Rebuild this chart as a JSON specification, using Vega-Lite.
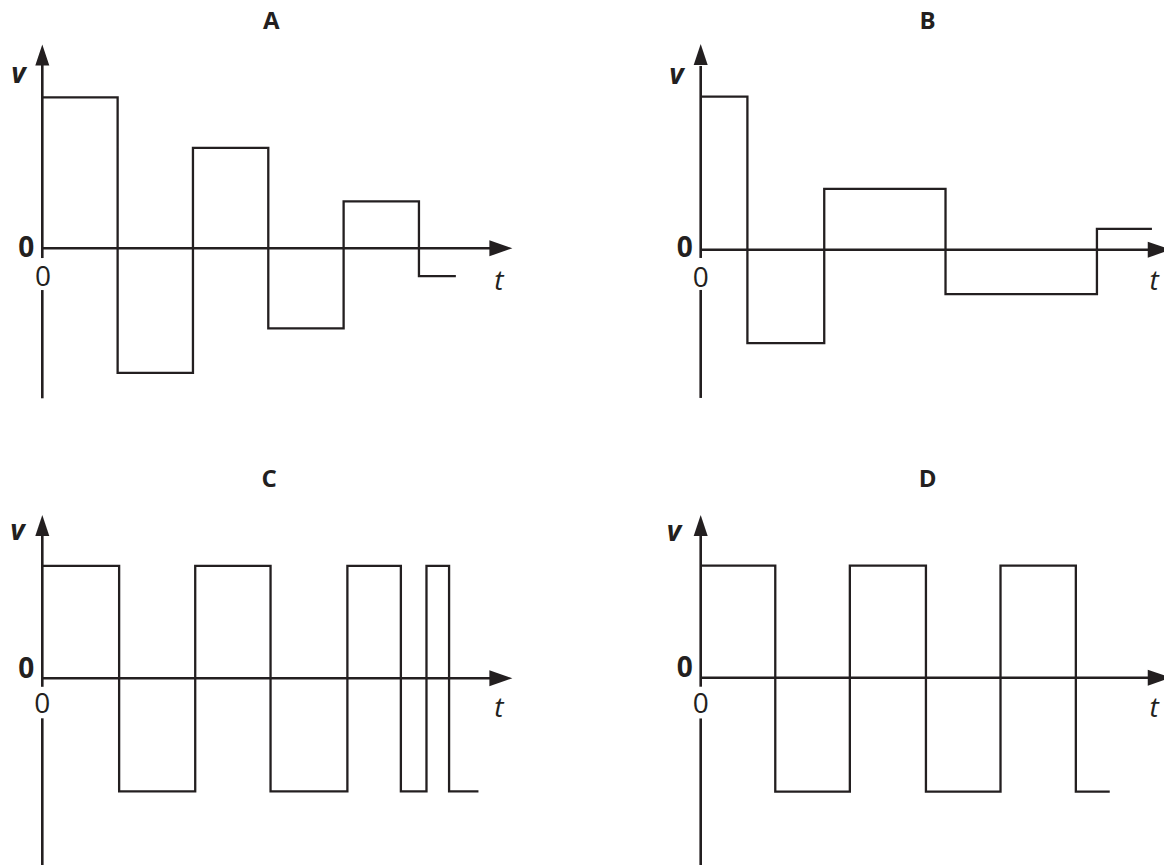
{
  "$schema": "https://vega.github.io/schema/vega-lite/v6.json",
  "padding": 0,
  "spacing": 0,
  "config": {
    "view": {"stroke": null},
    "axis": {"disable": true},
    "font": "Open Sans",
    "concat": {"spacing": 0}
  },
  "datasets": {
    "A": [{"t": 0, "v": 6.04}, {"t": 1, "v": -4.98}, {"t": 2, "v": 4.02}, {"t": 3, "v": -3.2}, {"t": 4, "v": 1.88}, {"t": 5, "v": -1.11}, {"t": 5.49, "v": -1.11}],
    "B": [{"t": 0, "v": 6.12}, {"t": 0.62, "v": -3.74}, {"t": 1.64, "v": 2.43}, {"t": 3.25, "v": -1.78}, {"t": 5.26, "v": 0.83}, {"t": 5.99, "v": 0.83}],
    "C": [{"t": 0, "v": 4.5}, {"t": 1.02, "v": -4.52}, {"t": 2.03, "v": 4.5}, {"t": 3.03, "v": -4.52}, {"t": 4.05, "v": 4.5}, {"t": 4.76, "v": -4.52}, {"t": 5.1, "v": 4.5}, {"t": 5.4, "v": -4.52}, {"t": 5.79, "v": -4.52}],
    "D": [{"t": 0, "v": 4.48}, {"t": 0.99, "v": -4.56}, {"t": 1.98, "v": 4.48}, {"t": 2.99, "v": -4.56}, {"t": 3.98, "v": 4.48}, {"t": 4.98, "v": -4.56}, {"t": 5.43, "v": -4.56}]
  },
  "vconcat": [
    {
      "hconcat": [
        {
          "width": 582, "height": 432,
          "title": {"text": "A", "fontSize": 24, "fontWeight": "bold", "color": "#231f20", "font": "Open Sans", "baseline": "alphabetic", "anchor": "middle", "offset": -52.5, "dx": -19.7},
          "layer": [
            {"data": {"name": "A"}, "mark": {"type": "line", "interpolate": "step-after", "color": "#231f20", "strokeWidth": 2.3, "strokeJoin": "miter", "strokeCap": "butt"},
             "encoding": {"x": {"field": "t", "type": "quantitative", "scale": {"domain": [-0.5615, 7.1645], "nice": false, "zero": false}}, "y": {"field": "v", "type": "quantitative", "scale": {"domain": [-7.348, 9.932], "nice": false, "zero": false}}}},
            {"data": {"values": [{}]}, "mark": {"type": "rule", "color": "#231f20", "strokeWidth": 2.6}, "encoding": {"x": {"datum": 0, "type": "quantitative"}, "x2": {"datum": 6.1}, "y": {"datum": 0, "type": "quantitative"}}},
            {"data": {"values": [{}]}, "mark": {"type": "rule", "color": "#231f20", "strokeWidth": 2.6}, "encoding": {"x": {"datum": 0, "type": "quantitative"}, "y": {"datum": 7.4, "type": "quantitative"}, "y2": {"datum": -0.39}}},
            {"data": {"values": [{}]}, "mark": {"type": "rule", "color": "#231f20", "strokeWidth": 2.6}, "encoding": {"x": {"datum": 0, "type": "quantitative"}, "y": {"datum": -1.67, "type": "quantitative"}, "y2": {"datum": -6.0}}},
            {"data": {"values": [{}]}, "mark": {"type": "point", "filled": true, "opacity": 1, "color": "#231f20", "size": 441, "shape": "M0,0L0.667,2L-0.667,2Z"}, "encoding": {"x": {"datum": 0, "type": "quantitative"}, "y": {"datum": 8.15, "type": "quantitative"}}},
            {"data": {"values": [{}]}, "mark": {"type": "point", "filled": true, "opacity": 1, "color": "#231f20", "size": 256, "shape": "M0,0L-2.875,-1L-2.875,1Z", "clip": true}, "encoding": {"x": {"datum": 6.24, "type": "quantitative"}, "y": {"datum": 0, "type": "quantitative"}}},
            {"data": {"values": [{"label": "v"}]}, "mark": {"type": "text", "fontSize": 28, "fontStyle": "italic", "fontWeight": "bold", "color": "#231f20", "align": "center", "baseline": "alphabetic", "dx": -24}, "encoding": {"x": {"datum": 0, "type": "quantitative"}, "y": {"datum": 6.6, "type": "quantitative"}, "text": {"field": "label"}}},
            {"data": {"values": [{"label": "0"}]}, "mark": {"type": "text", "fontSize": 28, "fontWeight": "bold", "color": "#231f20", "align": "right", "baseline": "alphabetic", "dx": -8, "dy": 9}, "encoding": {"x": {"datum": 0, "type": "quantitative"}, "y": {"datum": 0, "type": "quantitative"}, "text": {"field": "label"}}},
            {"data": {"values": [{"label": "0"}]}, "mark": {"type": "text", "fontSize": 28, "color": "#231f20", "align": "center", "baseline": "alphabetic", "dx": 0.7, "dy": 37.7}, "encoding": {"x": {"datum": 0, "type": "quantitative"}, "y": {"datum": 0, "type": "quantitative"}, "text": {"field": "label"}}},
            {"data": {"values": [{"label": "t"}]}, "mark": {"type": "text", "fontSize": 28, "fontStyle": "italic", "color": "#231f20", "align": "center", "baseline": "alphabetic", "dy": 41.7}, "encoding": {"x": {"datum": 6.06, "type": "quantitative"}, "y": {"datum": 0, "type": "quantitative"}, "text": {"field": "label"}}}
          ]
        },
        {
          "width": 582, "height": 432,
          "title": {"text": "B", "fontSize": 24, "fontWeight": "bold", "color": "#231f20", "font": "Open Sans", "baseline": "alphabetic", "anchor": "middle", "offset": -53.3, "dx": 54.5},
          "layer": [
            {"data": {"name": "B"}, "mark": {"type": "line", "interpolate": "step-after", "color": "#231f20", "strokeWidth": 2.3, "strokeJoin": "miter", "strokeCap": "butt"},
             "encoding": {"x": {"field": "t", "type": "quantitative", "scale": {"domain": [-1.5757, 6.1503], "nice": false, "zero": false}}, "y": {"field": "v", "type": "quantitative", "scale": {"domain": [-7.292, 9.988], "nice": false, "zero": false}}}},
            {"data": {"values": [{}]}, "mark": {"type": "rule", "color": "#231f20", "strokeWidth": 2.6}, "encoding": {"x": {"datum": 0, "type": "quantitative"}, "x2": {"datum": 6.1}, "y": {"datum": 0, "type": "quantitative"}}},
            {"data": {"values": [{}]}, "mark": {"type": "rule", "color": "#231f20", "strokeWidth": 2.6}, "encoding": {"x": {"datum": 0, "type": "quantitative"}, "y": {"datum": 7.35, "type": "quantitative"}, "y2": {"datum": -0.33}}},
            {"data": {"values": [{}]}, "mark": {"type": "rule", "color": "#231f20", "strokeWidth": 2.6}, "encoding": {"x": {"datum": 0, "type": "quantitative"}, "y": {"datum": -1.61, "type": "quantitative"}, "y2": {"datum": -5.93}}},
            {"data": {"values": [{}]}, "mark": {"type": "point", "filled": true, "opacity": 1, "color": "#231f20", "size": 441, "shape": "M0,0L0.667,2L-0.667,2Z"}, "encoding": {"x": {"datum": 0, "type": "quantitative"}, "y": {"datum": 8.23, "type": "quantitative"}}},
            {"data": {"values": [{}]}, "mark": {"type": "point", "filled": true, "opacity": 1, "color": "#231f20", "size": 256, "shape": "M0,0L-2.875,-1L-2.875,1Z", "clip": true}, "encoding": {"x": {"datum": 6.24, "type": "quantitative"}, "y": {"datum": 0, "type": "quantitative"}}},
            {"data": {"values": [{"label": "v"}]}, "mark": {"type": "text", "fontSize": 28, "fontStyle": "italic", "fontWeight": "bold", "color": "#231f20", "align": "center", "baseline": "alphabetic", "dx": -24.2}, "encoding": {"x": {"datum": 0, "type": "quantitative"}, "y": {"datum": 6.63, "type": "quantitative"}, "text": {"field": "label"}}},
            {"data": {"values": [{"label": "0"}]}, "mark": {"type": "text", "fontSize": 28, "fontWeight": "bold", "color": "#231f20", "align": "right", "baseline": "alphabetic", "dx": -8, "dy": 7.3}, "encoding": {"x": {"datum": 0, "type": "quantitative"}, "y": {"datum": 0, "type": "quantitative"}, "text": {"field": "label"}}},
            {"data": {"values": [{"label": "0"}]}, "mark": {"type": "text", "fontSize": 28, "color": "#231f20", "align": "center", "baseline": "alphabetic", "dx": 0, "dy": 37}, "encoding": {"x": {"datum": 0, "type": "quantitative"}, "y": {"datum": 0, "type": "quantitative"}, "text": {"field": "label"}}},
            {"data": {"values": [{"label": "t"}]}, "mark": {"type": "text", "fontSize": 28, "fontStyle": "italic", "color": "#231f20", "align": "center", "baseline": "alphabetic", "dy": 40.3}, "encoding": {"x": {"datum": 6.02, "type": "quantitative"}, "y": {"datum": 0, "type": "quantitative"}, "text": {"field": "label"}}}
          ]
        }
      ]
    },
    {
      "hconcat": [
        {
          "width": 582, "height": 433,
          "title": {"text": "C", "fontSize": 24, "fontWeight": "bold", "color": "#231f20", "font": "Open Sans", "baseline": "alphabetic", "anchor": "middle", "offset": -78.7, "dx": -21.8},
          "layer": [
            {"data": {"name": "C"}, "mark": {"type": "line", "interpolate": "step-after", "color": "#231f20", "strokeWidth": 2.3, "strokeJoin": "miter", "strokeCap": "butt"},
             "encoding": {"x": {"field": "t", "type": "quantitative", "scale": {"domain": [-0.5615, 7.1645], "nice": false, "zero": false}}, "y": {"field": "v", "type": "quantitative", "scale": {"domain": [-7.468, 9.852], "nice": false, "zero": false}}}},
            {"data": {"values": [{}]}, "mark": {"type": "rule", "color": "#231f20", "strokeWidth": 2.6}, "encoding": {"x": {"datum": 0, "type": "quantitative"}, "x2": {"datum": 6.1}, "y": {"datum": 0, "type": "quantitative"}}},
            {"data": {"values": [{}]}, "mark": {"type": "rule", "color": "#231f20", "strokeWidth": 2.6}, "encoding": {"x": {"datum": 0, "type": "quantitative"}, "y": {"datum": 5.73, "type": "quantitative"}, "y2": {"datum": -0.34}}},
            {"data": {"values": [{}]}, "mark": {"type": "rule", "color": "#231f20", "strokeWidth": 2.6}, "encoding": {"x": {"datum": 0, "type": "quantitative"}, "y": {"datum": -1.6, "type": "quantitative"}, "y2": {"datum": -7.468}}},
            {"data": {"values": [{}]}, "mark": {"type": "point", "filled": true, "opacity": 1, "color": "#231f20", "size": 441, "shape": "M0,0L0.667,2L-0.667,2Z"}, "encoding": {"x": {"datum": 0, "type": "quantitative"}, "y": {"datum": 6.53, "type": "quantitative"}}},
            {"data": {"values": [{}]}, "mark": {"type": "point", "filled": true, "opacity": 1, "color": "#231f20", "size": 256, "shape": "M0,0L-2.875,-1L-2.875,1Z", "clip": true}, "encoding": {"x": {"datum": 6.24, "type": "quantitative"}, "y": {"datum": 0, "type": "quantitative"}}},
            {"data": {"values": [{"label": "v"}]}, "mark": {"type": "text", "fontSize": 28, "fontStyle": "italic", "fontWeight": "bold", "color": "#231f20", "align": "center", "baseline": "alphabetic", "dx": -25}, "encoding": {"x": {"datum": 0, "type": "quantitative"}, "y": {"datum": 5.53, "type": "quantitative"}, "text": {"field": "label"}}},
            {"data": {"values": [{"label": "0"}]}, "mark": {"type": "text", "fontSize": 28, "fontWeight": "bold", "color": "#231f20", "align": "right", "baseline": "alphabetic", "dx": -8, "dy": 0}, "encoding": {"x": {"datum": 0, "type": "quantitative"}, "y": {"datum": 0, "type": "quantitative"}, "text": {"field": "label"}}},
            {"data": {"values": [{"label": "0"}]}, "mark": {"type": "text", "fontSize": 28, "color": "#231f20", "align": "center", "baseline": "alphabetic", "dx": 0, "dy": 35}, "encoding": {"x": {"datum": 0, "type": "quantitative"}, "y": {"datum": 0, "type": "quantitative"}, "text": {"field": "label"}}},
            {"data": {"values": [{"label": "t"}]}, "mark": {"type": "text", "fontSize": 28, "fontStyle": "italic", "color": "#231f20", "align": "center", "baseline": "alphabetic", "dy": 38.7}, "encoding": {"x": {"datum": 6.06, "type": "quantitative"}, "y": {"datum": 0, "type": "quantitative"}, "text": {"field": "label"}}}
          ]
        },
        {
          "width": 582, "height": 433,
          "title": {"text": "D", "fontSize": 24, "fontWeight": "bold", "color": "#231f20", "font": "Open Sans", "baseline": "alphabetic", "anchor": "middle", "offset": -79, "dx": 54.5},
          "layer": [
            {"data": {"name": "D"}, "mark": {"type": "line", "interpolate": "step-after", "color": "#231f20", "strokeWidth": 2.3, "strokeJoin": "miter", "strokeCap": "butt"},
             "encoding": {"x": {"field": "t", "type": "quantitative", "scale": {"domain": [-1.5757, 6.1503], "nice": false, "zero": false}}, "y": {"field": "v", "type": "quantitative", "scale": {"domain": [-7.492, 9.828], "nice": false, "zero": false}}}},
            {"data": {"values": [{}]}, "mark": {"type": "rule", "color": "#231f20", "strokeWidth": 2.6}, "encoding": {"x": {"datum": 0, "type": "quantitative"}, "x2": {"datum": 6.1}, "y": {"datum": 0, "type": "quantitative"}}},
            {"data": {"values": [{}]}, "mark": {"type": "rule", "color": "#231f20", "strokeWidth": 2.6}, "encoding": {"x": {"datum": 0, "type": "quantitative"}, "y": {"datum": 5.7, "type": "quantitative"}, "y2": {"datum": -0.36}}},
            {"data": {"values": [{}]}, "mark": {"type": "rule", "color": "#231f20", "strokeWidth": 2.6}, "encoding": {"x": {"datum": 0, "type": "quantitative"}, "y": {"datum": -1.63, "type": "quantitative"}, "y2": {"datum": -7.492}}},
            {"data": {"values": [{}]}, "mark": {"type": "point", "filled": true, "opacity": 1, "color": "#231f20", "size": 441, "shape": "M0,0L0.667,2L-0.667,2Z"}, "encoding": {"x": {"datum": 0, "type": "quantitative"}, "y": {"datum": 6.51, "type": "quantitative"}}},
            {"data": {"values": [{}]}, "mark": {"type": "point", "filled": true, "opacity": 1, "color": "#231f20", "size": 256, "shape": "M0,0L-2.875,-1L-2.875,1Z", "clip": true}, "encoding": {"x": {"datum": 6.24, "type": "quantitative"}, "y": {"datum": 0, "type": "quantitative"}}},
            {"data": {"values": [{"label": "v"}]}, "mark": {"type": "text", "fontSize": 28, "fontStyle": "italic", "fontWeight": "bold", "color": "#231f20", "align": "center", "baseline": "alphabetic", "dx": -26.7}, "encoding": {"x": {"datum": 0, "type": "quantitative"}, "y": {"datum": 5.47, "type": "quantitative"}, "text": {"field": "label"}}},
            {"data": {"values": [{"label": "0"}]}, "mark": {"type": "text", "fontSize": 28, "fontWeight": "bold", "color": "#231f20", "align": "right", "baseline": "alphabetic", "dx": -8, "dy": -1}, "encoding": {"x": {"datum": 0, "type": "quantitative"}, "y": {"datum": 0, "type": "quantitative"}, "text": {"field": "label"}}},
            {"data": {"values": [{"label": "0"}]}, "mark": {"type": "text", "fontSize": 28, "color": "#231f20", "align": "center", "baseline": "alphabetic", "dx": 0, "dy": 35.6}, "encoding": {"x": {"datum": 0, "type": "quantitative"}, "y": {"datum": 0, "type": "quantitative"}, "text": {"field": "label"}}},
            {"data": {"values": [{"label": "t"}]}, "mark": {"type": "text", "fontSize": 28, "fontStyle": "italic", "color": "#231f20", "align": "center", "baseline": "alphabetic", "dy": 39.3}, "encoding": {"x": {"datum": 6.02, "type": "quantitative"}, "y": {"datum": 0, "type": "quantitative"}, "text": {"field": "label"}}}
          ]
        }
      ]
    }
  ]
}
